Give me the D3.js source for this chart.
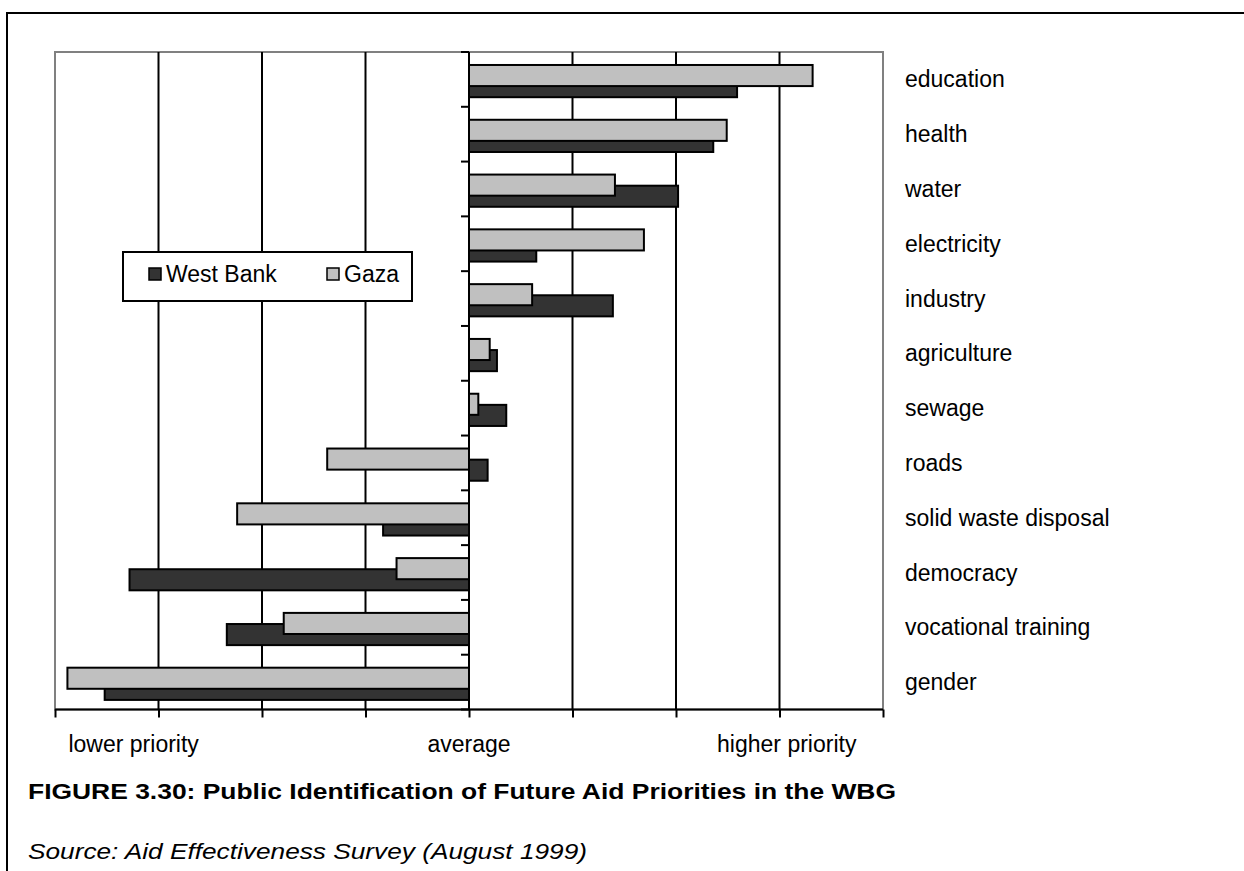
<!DOCTYPE html>
<html>
<head>
<meta charset="utf-8">
<script src="https://cdn.jsdelivr.net/npm/d3@7"></script>
<style>
  html, body { margin: 0; padding: 0; background: #fff; }
  svg { display: block; font-family: Arial, "Liberation Sans", sans-serif; }
</style>
</head>
<body>
<svg id="chart" width="1244" height="871"></svg>
<script>
// Sectors, top to bottom
const categories = ["education", "health", "water", "electricity", "industry", "agriculture",
  "sewage", "roads", "solid waste disposal", "democracy", "vocational training", "gender"];
// Priority scores relative to the average (0)
const westBank = [2.59, 2.36, 2.02, 0.65, 1.39, 0.27, 0.36, 0.18, -0.83, -3.28, -2.34, -3.52];
const gaza     = [3.32, 2.49, 1.41, 1.69, 0.61, 0.20, 0.09, -1.37, -2.24, -0.70, -1.79, -3.88];
const seriesNames = ["West Bank", "Gaza"];
// Axis range, gridline values and the verbal scale under the axis
const xDomain = [-4, 4];
const gridValues = [-4, -3, -2, -1, 0, 1, 2, 3, 4];
const scaleLabels = ["lower priority", "average", "higher priority"];
const scaleLabelValues = [-3.24, 0, 3.07];
const titleText = "FIGURE 3.30: Public Identification of Future Aid Priorities in the WBG";
const sourceText = "Source: Aid Effectiveness Survey (August 1999)";

const colors = { "West Bank": "#333333", "Gaza": "#c0c0c0" };
const svg = d3.select("#chart");

// Outer frame (runs off the right and bottom edge)
svg.append("rect")
  .attr("x", 7).attr("y", 13).attr("width", 1300).attr("height", 900)
  .attr("fill", "none").attr("stroke", "#000").attr("stroke-width", 2);

const plot = { left: 55, right: 883, top: 52, bottom: 709.5 };
const x = d3.scaleLinear().domain(xDomain).range([plot.left, plot.right]);
const y = d3.scaleBand().domain(categories).range([plot.top, plot.bottom]).padding(0);
const bw = y.bandwidth();

// Plot-area border (gray)
svg.append("rect")
  .attr("x", plot.left).attr("y", plot.top)
  .attr("width", plot.right - plot.left).attr("height", plot.bottom - plot.top)
  .attr("fill", "none").attr("stroke", "#808080").attr("stroke-width", 2);

// Vertical gridlines
svg.append("g").selectAll("line")
  .data(gridValues.filter(v => v !== xDomain[0] && v !== xDomain[1] && v !== 0))
  .join("line")
  .attr("x1", d => x(d)).attr("x2", d => x(d))
  .attr("y1", plot.top).attr("y2", plot.bottom)
  .attr("stroke", "#000").attr("stroke-width", 2);

// Bars: West Bank underneath, Gaza drawn on top
const rows = categories.map((c, i) => ({ c, wb: westBank[i], gz: gaza[i] }));
const barH = bw * 0.385;

svg.append("g").selectAll("rect")
  .data(rows).join("rect")
  .attr("x", d => x(Math.min(0, d.wb)))
  .attr("y", d => y(d.c) + bw * 0.44)
  .attr("width", d => Math.abs(x(d.wb) - x(0)))
  .attr("height", barH)
  .attr("fill", colors["West Bank"]).attr("stroke", "#000").attr("stroke-width", 2);

svg.append("g").selectAll("rect")
  .data(rows).join("rect")
  .attr("x", d => x(Math.min(0, d.gz)))
  .attr("y", d => y(d.c) + bw * 0.237)
  .attr("width", d => Math.abs(x(d.gz) - x(0)))
  .attr("height", barH)
  .attr("fill", colors["Gaza"]).attr("stroke", "#000").attr("stroke-width", 2);

// Zero axis with category tick marks
svg.append("line")
  .attr("x1", x(0)).attr("x2", x(0)).attr("y1", plot.top).attr("y2", plot.bottom)
  .attr("stroke", "#000").attr("stroke-width", 2);
svg.append("g").selectAll("line")
  .data(categories.map(c => y(c)).concat([plot.bottom]))
  .join("line")
  .attr("x1", x(0) - 8).attr("x2", x(0))
  .attr("y1", d => d).attr("y2", d => d)
  .attr("stroke", "#000").attr("stroke-width", 2);

// Bottom value axis
const xAxis = d3.axisBottom(x).tickValues(gridValues).tickSize(8).tickFormat("");
const gx = svg.append("g").attr("transform", `translate(0,${plot.bottom})`).call(xAxis);
gx.select(".domain").attr("stroke", "#000").attr("stroke-width", 2)
  .attr("d", `M${plot.left},0H${plot.right}`);
gx.selectAll(".tick line").attr("stroke", "#000").attr("stroke-width", 2);

// Verbal scale labels
svg.append("g").selectAll("text")
  .data(scaleLabels).join("text")
  .attr("x", (d, i) => x(scaleLabelValues[i]))
  .attr("y", 752)
  .attr("text-anchor", "middle")
  .attr("font-size", 23).attr("fill", "#000")
  .text(d => d);

// Category labels on the right
svg.append("g").selectAll("text")
  .data(categories).join("text")
  .attr("x", 905)
  .attr("y", d => y(d) + bw / 2)
  .attr("dy", "0.35em")
  .attr("font-size", 23).attr("fill", "#000")
  .text(d => d);

// Legend
const lg = svg.append("g");
lg.append("rect")
  .attr("x", 123).attr("y", 252).attr("width", 289).attr("height", 49)
  .attr("fill", "#fff").attr("stroke", "#000").attr("stroke-width", 2);
const legendX = [149, 327];
seriesNames.forEach((name, i) => {
  lg.append("rect")
    .attr("x", legendX[i]).attr("y", 268).attr("width", 12).attr("height", 12)
    .attr("fill", colors[name]).attr("stroke", "#000").attr("stroke-width", 1.5);
  lg.append("text")
    .attr("x", legendX[i] + 17).attr("y", 281.5)
    .attr("font-size", 23).attr("fill", "#000")
    .text(name);
});

// Title and source (set in a wide face)
svg.append("text")
  .attr("x", 28).attr("y", 799)
  .attr("font-size", 22).attr("font-weight", "bold").attr("fill", "#000")
  .attr("textLength", 868).attr("lengthAdjust", "spacingAndGlyphs")
  .text(titleText);
svg.append("text")
  .attr("x", 28).attr("y", 859)
  .attr("font-size", 22).attr("font-style", "italic").attr("fill", "#000")
  .attr("textLength", 559).attr("lengthAdjust", "spacingAndGlyphs")
  .text(sourceText);
</script>
</body>
</html>
